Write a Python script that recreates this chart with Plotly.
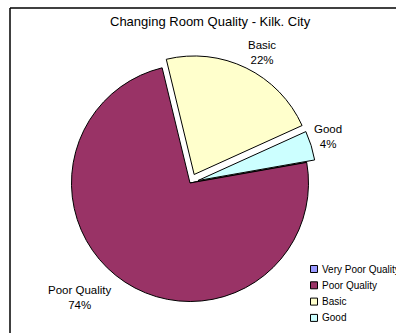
import plotly.graph_objects as go

# Changing room quality survey, Kilkenny City (share of changing rooms, %)
categories = ["Very Poor Quality", "Poor Quality", "Basic", "Good"]
shares = [0, 74, 22, 4]
colors = ["#9999FF", "#993366", "#FFFFCC", "#CCFFFF"]
pulls = [0, 0, 0.08, 0.07]

W, H = 396, 333
FONT = "Liberation Sans"

total = sum(shares)
pct = [round(100 * v / total) for v in shares]

# pie centre (190, 183) px, radius about 118 px plus room for the pulled slices
cx, cy, half = 190, 183, 128
dom_x = [(cx - half) / W, (cx + half) / W]
dom_y = [(H - cy - half) / H, (H - cy + half) / H]

fig = go.Figure(
    go.Pie(
        labels=categories,
        values=shares,
        sort=False,
        direction="clockwise",
        rotation=80,
        pull=pulls,
        marker=dict(colors=colors, line=dict(color="#000000", width=1)),
        textinfo="none",
        hoverinfo="label+percent",
        domain=dict(x=dom_x, y=dom_y),
        showlegend=False,
    )
)

def px_x(v):
    return v / W

def px_y(v):
    return 1 - v / H

# slice labels placed outside the pie
label_pos = {"Basic": (262, 53), "Good": (328, 136), "Poor Quality": (80, 297)}
annotations = []
for name, p in zip(categories, pct):
    if name in label_pos:
        lx, ly = label_pos[name]
        annotations.append(
            dict(
                x=px_x(lx), y=px_y(ly), xref="paper", yref="paper",
                text=f"{name}<br>{p}%", showarrow=False,
                font=dict(family=FONT, size=11.5, color="#000000"),
                xanchor="center", yanchor="middle", align="center",
            )
        )

annotations.append(
    dict(
        x=px_x(210), y=px_y(22), xref="paper", yref="paper",
        text="Changing Room Quality - Kilk. City", showarrow=False,
        font=dict(family=FONT, size=13, color="#000000"),
        xanchor="center", yanchor="middle",
    )
)

# chart frame
shapes = [
    dict(type="line", xref="paper", yref="paper",
         x0=px_x(10), x1=1, y0=px_y(8), y1=px_y(8),
         line=dict(color="#000000", width=1.5)),
    dict(type="line", xref="paper", yref="paper",
         x0=px_x(10), x1=px_x(10), y0=px_y(8), y1=0,
         line=dict(color="#000000", width=1.5)),
]

# legend: small swatches with the category names
leg_x, leg_y0, leg_step = 314, 269, 16.3
for i, (name, col) in enumerate(zip(categories, colors)):
    yc = leg_y0 + i * leg_step
    shapes.append(
        dict(type="rect", xref="paper", yref="paper",
             x0=px_x(leg_x - 3.5), x1=px_x(leg_x + 3.5),
             y0=px_y(yc - 3.5), y1=px_y(yc + 3.5),
             fillcolor=col, line=dict(color="#000000", width=1))
    )
    annotations.append(
        dict(x=px_x(leg_x + 6), y=px_y(yc), xref="paper", yref="paper",
             text=name, showarrow=False, xanchor="left", yanchor="middle",
             font=dict(family=FONT, size=10, color="#000000"))
    )

fig.update_layout(
    width=W,
    height=H,
    margin=dict(l=0, r=0, t=0, b=0, autoexpand=False),
    paper_bgcolor="#FFFFFF",
    plot_bgcolor="#FFFFFF",
    showlegend=False,
    annotations=annotations,
    shapes=shapes,
)

fig.write_html("out.html")
